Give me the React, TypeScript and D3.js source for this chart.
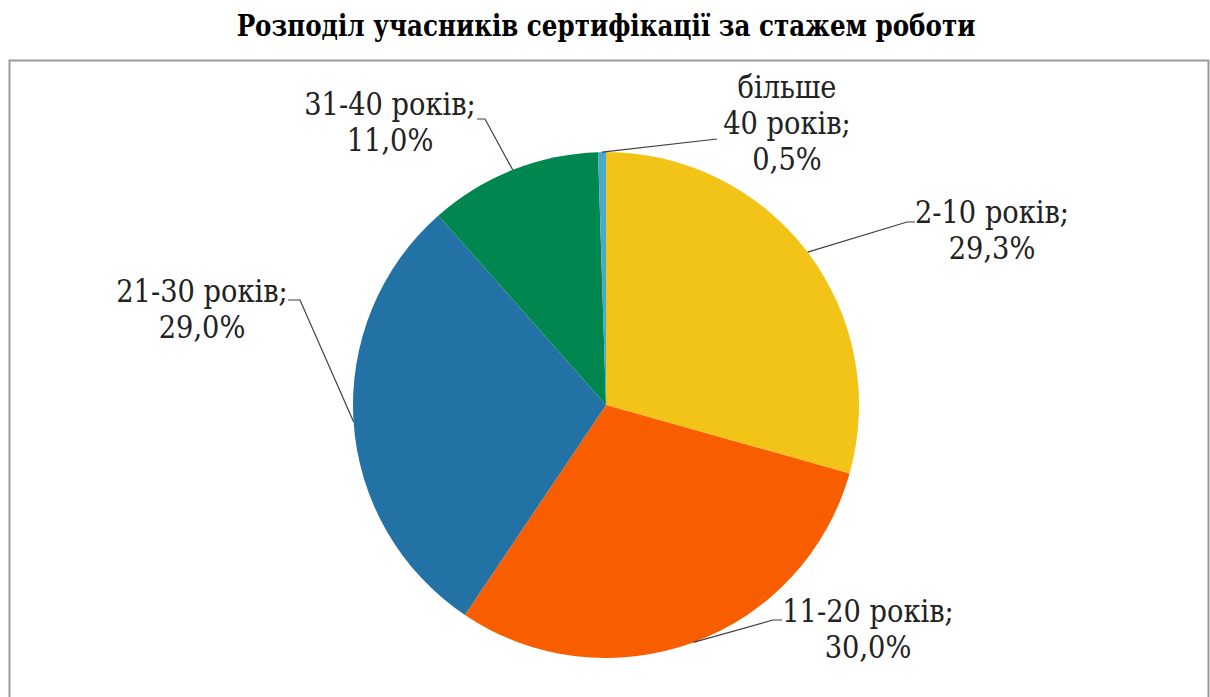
import React from "react";
import * as d3 from "d3";

const categories = ["2-10 років;", "11-20 років;", "21-30 років;", "31-40 років;", "більше 40 років;"];
const values = [29.3, 30.0, 29.0, 11.0, 0.5];
const valueLabels = ["29,3%", "30,0%", "29,0%", "11,0%", "0,5%"];
const colors = ["#F2C418", "#F85E00", "#2272A6", "#00874F", "#4AA8C8"];

const W = 1210;
const H = 697;
const cx = 606;
const cy = 405;
const R = 253;

const SERIF = "'DejaVu Serif', serif";

// label layout: text lines, center x, first baseline, elbow point, line end
const labelLayout = [
  { lines: [categories[0], valueLabels[0]], x: 992, y: 223, elbow: [907, 222], end: [915, 222] },
  { lines: [categories[1], valueLabels[1]], x: 868, y: 622, elbow: [773, 620], end: [782, 620] },
  { lines: [categories[2], valueLabels[2]], x: 202, y: 302, elbow: [300, 300], end: [288, 300] },
  { lines: [categories[3], valueLabels[3]], x: 390, y: 115, elbow: [485, 119], end: [477, 119] },
  { lines: ["більше", "40 років;", valueLabels[4]], x: 787, y: 98, elbow: [717, 139], end: [717, 139] },
];

export default function App() {
  const pie = d3.pie<number>().sort(null).value((d) => d).startAngle(0).endAngle(2 * Math.PI);
  const arcs = pie(values);
  const arc = d3.arc<d3.PieArcDatum<number>>().innerRadius(0).outerRadius(R);

  return (
    <svg
      width={W}
      height={H}
      style={{ position: "absolute", left: 0, top: 0, background: "#fff" }}
    >
      <rect x={0} y={0} width={W} height={H} fill="#fff" />
      <g transform={`translate(606,36) scale(0.82,1)`}>
        <text
          x={0}
          y={0}
          textAnchor="middle"
          style={{ fontFamily: SERIF, fontWeight: "bold", fontSize: "30px" }}
          fill="#000"
        >
          Розподіл учасників сертифікації за стажем роботи
        </text>
      </g>
      <rect x={9.5} y={60.5} width={1199} height={660} fill="#fff" stroke="#9a9a9a" strokeWidth={2} />
      <g transform={`translate(${cx},${cy})`}>
        {arcs.map((a, i) => (
          <path key={categories[i]} d={arc(a) || ""} fill={colors[i]} />
        ))}
      </g>
      {arcs.map((a, i) => {
        const mid = (a.startAngle + a.endAngle) / 2;
        const px = cx + R * Math.sin(mid);
        const py = cy - R * Math.cos(mid);
        const L = labelLayout[i];
        return (
          <polyline
            key={"l" + i}
            points={`${px},${py} ${L.elbow[0]},${L.elbow[1]} ${L.end[0]},${L.end[1]}`}
            fill="none"
            stroke="#404040"
            strokeWidth={1.2}
          />
        );
      })}
      {labelLayout.map((L, i) => (
        <g key={"t" + i} transform={`translate(${L.x},0) scale(0.88,1)`}>
          <text
            textAnchor="middle"
            style={{ fontFamily: SERIF, fontSize: "31px" }}
            fill="#222"
          >
            {L.lines.map((ln, j) => (
              <tspan key={j} x={0} y={L.y + j * 36}>
                {ln}
              </tspan>
            ))}
          </text>
        </g>
      ))}
    </svg>
  );
}
